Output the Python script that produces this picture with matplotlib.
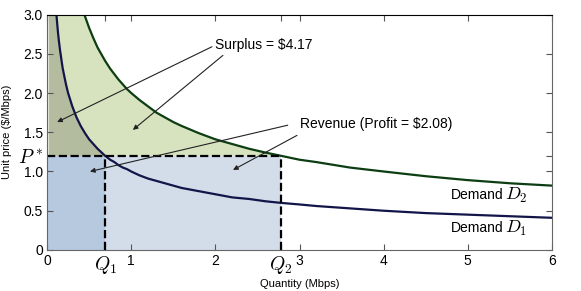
import matplotlib

matplotlib.use("Agg")
import matplotlib.pyplot as plt
import numpy as np

plt.rcParams["font.family"] = ["Liberation Sans", "DejaVu Sans"]
plt.rcParams["mathtext.fontset"] = "cm"

# demand curves (price in $/Mbps at quantity in Mbps)
quantity = [0.02, 0.1, 0.11, 0.12, 0.13, 0.14, 0.155, 0.17, 0.185, 0.2, 0.225, 0.25, 0.3, 0.35, 0.4,
            0.45, 0.5, 0.55, 0.6, 0.69, 0.75, 0.8, 0.85, 0.9, 0.95, 1.0, 1.1, 1.2, 1.3, 1.4, 1.5,
            1.6, 1.8, 2.0, 2.2, 2.4, 2.6, 2.78, 3.0, 3.2, 3.6, 4.0, 4.5, 5.0, 5.5, 6.0]
demand_1 = [7.07, 3.16, 3.02, 2.89, 2.77, 2.67, 2.54, 2.43, 2.32, 2.24, 2.11, 2.0, 1.83, 1.69, 1.58,
            1.49, 1.41, 1.35, 1.29, 1.2, 1.15, 1.12, 1.08, 1.05, 1.03, 1.0, 0.95, 0.91, 0.88, 0.85, 0.82,
            0.79, 0.75, 0.71, 0.67, 0.65, 0.62, 0.6, 0.58, 0.56, 0.53, 0.5, 0.47, 0.45, 0.43, 0.41]
demand_2 = [14.1, 6.32, 6.03, 5.77, 5.55, 5.35, 5.08, 4.85, 4.65, 4.47, 4.22, 4.0, 3.65, 3.38, 3.16,
            2.98, 2.83, 2.7, 2.58, 2.41, 2.31, 2.24, 2.17, 2.11, 2.05, 2.0, 1.91, 1.83, 1.75, 1.69, 1.63,
            1.58, 1.49, 1.41, 1.35, 1.29, 1.24, 1.2, 1.15, 1.12, 1.05, 1.0, 0.94, 0.89, 0.85, 0.82]
price_star = 1.2
q1 = 0.69
q2 = 2.78
x_ticks = [0, 1, 2, 3, 4, 5, 6]
y_ticks = [0, 0.5, 1.0, 1.5, 2.0, 2.5, 3.0]
y_tick_labels = ["0", "0.5", "1.0", "1.5", "2.0", "2.5", "3.0"]

x = np.array(quantity)
d1 = np.array(demand_1)
d2 = np.array(demand_2)

fig = plt.figure(figsize=(5.81, 2.91), dpi=100)
ax = fig.add_axes([0.081, 0.141, 0.869, 0.809])

# surplus areas
ax.fill_between(x, price_star, d2, where=x <= q2, color="#d7e3bf", lw=0)
ax.fill_between(x, price_star, d1, where=x <= q1, color="#b4bc9f", lw=0)
# revenue areas
ax.fill_between([0, q2], 0, price_star, color="#d3dde9", lw=0)
ax.fill_between([0, q1], 0, price_star, color="#b6c9df", lw=0)

ax.plot(x, d2, color="#0d3d12", lw=1.6)
ax.plot(x, d1, color="#121548", lw=1.6)

ax.plot([0, q2], [price_star, price_star], "k--", lw=1.6)
ax.plot([q1, q1], [0, price_star], "k--", lw=1.6)
ax.plot([q2, q2], [0, price_star], "k--", lw=1.6)

arrow = {"arrowstyle": "-|>", "lw": 0.8, "color": "#222222", "mutation_scale": 7, "shrinkA": 0, "shrinkB": 0}
ax.text(2.0, 2.61, "Surplus = $4.17", fontsize=10, va="center")
ax.annotate("", xy=(0.12, 1.63), xytext=(1.96, 2.59), arrowprops=arrow)
ax.annotate("", xy=(1.02, 1.53), xytext=(2.09, 2.48), arrowprops=arrow)
ax.text(3.0, 1.6, "Revenue (Profit = $2.08)", fontsize=10, va="center")
ax.annotate("", xy=(0.51, 1.0), xytext=(2.86, 1.59), arrowprops=arrow)
ax.annotate("", xy=(2.21, 1.02), xytext=(2.97, 1.46), arrowprops=arrow)

ax.text(4.8, 0.7, "Demand", fontsize=10, va="center")
ax.text(5.44, 0.7, "$D_2$", fontsize=13, va="center")
ax.text(4.8, 0.28, "Demand", fontsize=10, va="center")
ax.text(5.44, 0.28, "$D_1$", fontsize=13, va="center")

ax.set_xlim(0, 6)
ax.set_ylim(0, 3)
xt = x_ticks[:1] + [q1] + x_ticks[1:3] + [q2] + x_ticks[3:]
xl = [str(t) for t in x_ticks[:1]] + ["$Q_1$"] + [str(t) for t in x_ticks[1:3]] + ["$Q_2$"] + [str(t) for t in x_ticks[3:]]
ax.set_xticks(xt)
ax.set_xticklabels(xl)
yt = y_ticks[:3] + [price_star] + y_ticks[3:]
yl = y_tick_labels[:3] + ["$P^*$"] + y_tick_labels[3:]
ax.set_yticks(yt)
ax.set_yticklabels(yl)
for lab in ax.get_xticklabels() + ax.get_yticklabels():
    if "$" in lab.get_text():
        lab.set_fontsize(14)
    else:
        lab.set_fontsize(10)
ax.tick_params(direction="in", top=True, right=True, length=4, color="#555555", pad=3)
for side in ["left", "bottom", "right"]:
    ax.spines[side].set_color("#666666")
ax.set_xlabel("Quantity (Mbps)", fontsize=8, labelpad=2)
ax.set_ylabel("Unit price ($/Mbps)", fontsize=8, labelpad=4)

fig.savefig("out.png", dpi=100)
